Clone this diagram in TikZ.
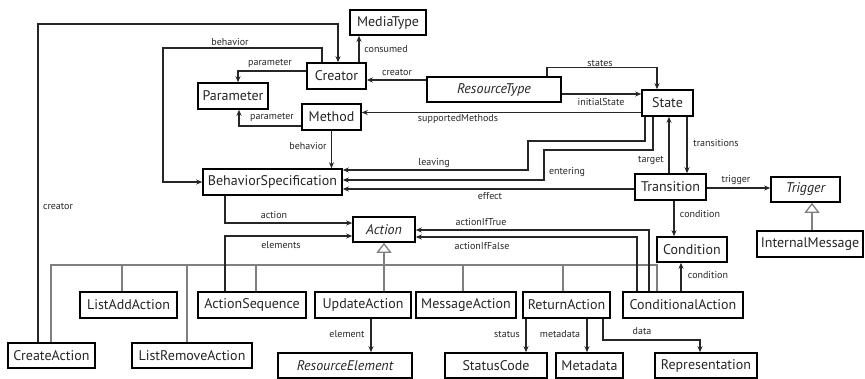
\documentclass[tikz,border=0pt]{standalone}
\usepackage{fontspec}
\setmainfont{PT Sans}
\usetikzlibrary{arrows.meta, positioning}
\tikzstyle{cls} = [draw, line width=1.6pt, fill=white, inner sep=0pt, text=black!85, font=\fontsize{14}{16}\selectfont]
\tikzstyle{abstract} = [cls, font=\fontsize{14}{16}\selectfont\itshape]
\tikzstyle{arrow} = [->, >={Stealth[length=6pt, width=5pt]}, line width=1.4pt, black!85]
\tikzstyle{line} = [-, line width=1.4pt, black!85]
\tikzstyle{gen} = [-, draw=gray, line width=1.3pt]
\tikzstyle{genarrow} = [gen, -{Triangle[open, length=10pt, width=15pt]}]
\tikzstyle{lbl} = [inner sep=0pt, text=black!85, font=\fontsize{10}{12}\selectfont]

\begin{document}
\begin{tikzpicture}[x=1pt, y=-1pt]
    \useasboundingbox (0,0) rectangle (865,378);

    % classes
    \node[cls, minimum width=76, minimum height=25] (MediaType) at (388,22.5) {MediaType};
    \node[cls, minimum width=59, minimum height=26] (Creator) at (336.5,76) {Creator};
    \node[abstract, minimum width=134, minimum height=25] (ResourceType) at (494,89.5) {ResourceType};
    \node[cls, minimum width=70, minimum height=26] (Parameter) at (233,96) {Parameter};
    \node[cls, minimum width=59, minimum height=26] (Method) at (331.5,117) {Method};
    \node[cls, minimum width=51, minimum height=26] (State) at (667.5,103) {State};
    \node[cls, minimum width=139, minimum height=26] (BehaviorSpecification) at (272.5,182) {BehaviorSpecification};
    \node[cls, minimum width=71, minimum height=26] (Transition) at (670.5,187) {Transition};
    \node[abstract, minimum width=69, minimum height=25] (Trigger) at (805.5,189.5) {Trigger};
    \node[abstract, minimum width=62, minimum height=25] (Action) at (384,229.5) {Action};
    \node[cls, minimum width=106, minimum height=26] (InternalMessage) at (810,244) {InternalMessage};
    \node[cls, minimum width=70, minimum height=25] (Condition) at (692,249.5) {Condition};

    \node[cls, minimum width=97, minimum height=26] (ListAddAction) at (128.5,305) {ListAddAction};
    \node[cls, minimum width=108, minimum height=26] (ActionSequence) at (252,305) {ActionSequence};
    \node[cls, minimum width=96, minimum height=26] (UpdateAction) at (363,305) {UpdateAction};
    \node[cls, minimum width=100, minimum height=26] (MessageAction) at (466,305) {MessageAction};
    \node[cls, minimum width=87, minimum height=26] (ReturnAction) at (566.5,305) {ReturnAction};
    \node[cls, minimum width=120, minimum height=26] (ConditionalAction) at (683,305) {ConditionalAction};
    \node[cls, minimum width=87, minimum height=25] (CreateAction) at (51.5,355.5) {CreateAction};
    \node[cls, minimum width=120, minimum height=25] (ListRemoveAction) at (192,355.5) {ListRemoveAction};

    \node[abstract, minimum width=134, minimum height=25] (ResourceElement) at (345,365.5) {ResourceElement};
    \node[cls, minimum width=102, minimum height=25] (StatusCode) at (496,365.5) {StatusCode};
    \node[cls, minimum width=67, minimum height=25] (Metadata) at (589.5,365.5) {Metadata};
    \node[cls, minimum width=102, minimum height=25] (Representation) at (706,365.5) {Representation};

    % generalizations
    \coordinate (bus-w) at (51,265);
    \coordinate (bus-e) at (657,265);
    \draw[gen] ([xshift=-0.5]CreateAction.north) -- (bus-w) -- (bus-e) -- ([xshift=-26]ConditionalAction.north);
    \foreach \n/\dx in {ListAddAction/-6.5, ListRemoveAction/-5, ActionSequence/4, MessageAction/-3, ReturnAction/-3.5}
        \draw[gen] ([xshift=\dx]\n.north) |- (bus-w);
    \draw[genarrow] (UpdateAction.north -| Action.south) -- (Action.south);
    \draw[genarrow] ([xshift=2]InternalMessage.north) -- ([xshift=6.5]Trigger.south);

    % associations
    \coordinate (c-top) at (338,24);
    \coordinate (b-corner) at (163,48);
    \draw[arrow] ([xshift=-13.5]CreateAction.north) |- (c-top) -- ([xshift=1.5]Creator.north);
    \draw[arrow] ([xshift=-14.5]Creator.north) |- (b-corner) |- (BehaviorSpecification.west);
    \draw[arrow] ([yshift=5]Creator.west) -| ([xshift=5]Parameter.north);
    \draw[arrow] ([yshift=-9]Method.west) -| ([xshift=6]Parameter.south);
    \draw[arrow] (Method.south) -- (Method.south |- BehaviorSpecification.north);
    \draw[arrow] ([xshift=22.5]Creator.north) -- ([xshift=-29]MediaType.south);
    \draw[arrow] ([yshift=9.5]ResourceType.west) -- ([yshift=-4]Creator.east);
    \draw[arrow] ([xshift=53]ResourceType.north) -- ++(0,-9) -| ([xshift=-10.5]State.north);
    \draw[arrow] ([yshift=-4.5]ResourceType.east) -- ([yshift=9]State.west);
    \draw[arrow] ([yshift=-9.5]State.west) -- ([yshift=4.5]Method.east);
    \draw[arrow] ([xshift=-22.5]State.south) -- ++(0,24) -- ++(-117,0) |- ([yshift=12]BehaviorSpecification.east);
    \draw[arrow] ([xshift=-14.5]State.south) -- ++(0,33) -- ++(-109,0) |- ([yshift=2]BehaviorSpecification.east);
    \draw[arrow] ([yshift=-2]Transition.west) -- ([yshift=-7]BehaviorSpecification.east);
    \draw[arrow] ([xshift=-1.5]Transition.north) -- ([xshift=1.5]State.south);
    \draw[arrow] ([xshift=19.5]State.south) -- ([xshift=16.5]Transition.north);
    \draw[arrow] ([yshift=-1]Transition.east) -- ([yshift=1.5]Trigger.west);
    \draw[arrow] ([xshift=3.5]Transition.south) -- ([xshift=-18]Condition.north);
    \draw[arrow] ([xshift=-2]ConditionalAction.north) -- ([xshift=-11]Condition.south);
    \draw[arrow] ([xshift=-34]ConditionalAction.north) |- ([yshift=-0.5]Action.east);
    \draw[arrow] ([xshift=-46]ConditionalAction.north) |- ([yshift=-7.5]Action.east);
    \draw[arrow] ([xshift=-47.5]BehaviorSpecification.south) |- ([yshift=6.5]Action.west);
    \draw[arrow] ([xshift=-27]ActionSequence.north) |- ([yshift=-6.5]Action.west);
    \draw[arrow] ([xshift=8]UpdateAction.south) -- ([xshift=26]ResourceElement.north);
    \draw[arrow] ([xshift=-40.5]ReturnAction.south) -- ([xshift=30]StatusCode.north);
    \draw[arrow] ([xshift=20.5]ReturnAction.south) -- ([xshift=-2.5]Metadata.north);
    \draw[arrow] ([xshift=36.5]ReturnAction.south) -- ++(0,21) -| ([xshift=-6]Representation.north);

    % role names
    \node[lbl] (l-behavior) at (230,42) {behavior};
    \node[lbl] (l-parameter) at (270,63) {parameter};
    \node[lbl] (l-consumed) at (386,49) {consumed};
    \node[lbl] (l-creator) at (397,72) {creator};
    \node[lbl] (l-parameter2) at (272,117) {parameter};
    \node[lbl] (l-supported) at (458,119) {supportedMethods};
    \node[lbl] (l-behavior2) at (308,146) {behavior};
    \node[lbl] (l-states) at (600,63) {states};
    \node[lbl] (l-initial) at (601,102) {initialState};
    \node[lbl] (l-transitions) at (716,143) {transitions};
    \node[lbl] (l-target) at (651,160) {target};
    \node[lbl] (l-leaving) at (434,163) {leaving};
    \node[lbl] (l-entering) at (567,172) {entering};
    \node[lbl] (l-trigger) at (736,180) {trigger};
    \node[lbl] (l-effect) at (490,196) {effect};
    \node[lbl] (l-creator2) at (58,206) {creator};
    \node[lbl] (l-condition) at (700,214) {condition};
    \node[lbl] (l-action) at (274,215) {action};
    \node[lbl] (l-iftrue) at (481,222) {actionIfTrue};
    \node[lbl] (l-elements) at (281,245) {elements};
    \node[lbl] (l-iffalse) at (482,246) {actionIfFalse};
    \node[lbl] (l-condition2) at (708,275) {condition};
    \node[lbl] (l-element) at (347,334) {element};
    \node[lbl] (l-status) at (507,334) {status};
    \node[lbl] (l-metadata) at (560,334) {metadata};
    \node[lbl] (l-data) at (642,331) {data};

\end{tikzpicture}
\end{document}
